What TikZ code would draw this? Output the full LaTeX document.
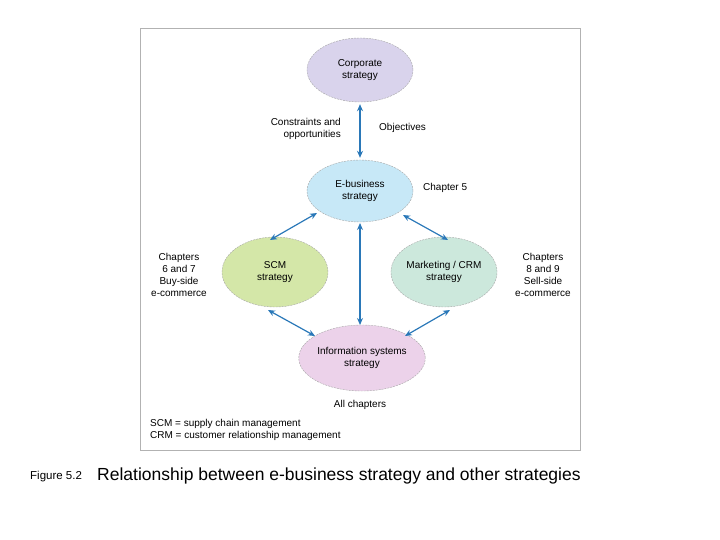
\documentclass[tikz,border=0pt]{standalone}
\usepackage{fontspec}
\setmainfont{Liberation Sans}
\usetikzlibrary{arrows.meta,shapes.geometric}
\definecolor{arr}{HTML}{2A78B8}
\tikzset{
 ell/.style={draw=gray!70, dash pattern=on 2pt off 1pt, thin, ellipse, minimum width=#1},
 lbl/.style={font=\fontsize{10}{12}\selectfont, align=center, inner sep=0pt},
 conn/.style={draw=arr, line width=1.2pt, {Stealth[length=7pt,width=6pt]}-{Stealth[length=7pt,width=6pt]}}
}
\begin{document}
\begin{tikzpicture}[x=1pt,y=-1pt]
\useasboundingbox (0,0) rectangle (720,540);
\draw[gray!60, thin] (140,28) rectangle (580,450);
\node[ell=106pt, minimum height=64pt, fill={rgb,255:red,217;green,211;blue,236}, lbl] (corp) at (360,70) {Corporate\\strategy};
\node[ell=106pt, minimum height=62pt, fill={rgb,255:red,199;green,232;blue,247}, lbl] (eb) at (360,191) {E-business\\strategy};
\node[ell=106pt, minimum height=70pt, fill={rgb,255:red,212;green,231;blue,168}, lbl] (scm) at (275,272) {SCM\\strategy};
\node[ell=106pt, minimum height=70pt, fill={rgb,255:red,204;green,232;blue,220}, lbl] (mkt) at (444,272) {Marketing / CRM\\strategy};
\node[ell=110pt, minimum height=66pt, fill={rgb,255:red,236;green,210;blue,234}, lbl] (is) at (362,358) {Information systems\\strategy};
\draw[conn] ([yshift=-2pt]corp.south) -- ([yshift=2pt]eb.north);
\draw[conn] (360,223) -- (360,325);
\draw[conn] (317,213) -- (270,240);
\draw[conn] (403,215) -- (448,240);
\draw[conn] (268,310) -- (315,336);
\draw[conn] (450,310) -- (405,336);
\node[lbl, align=right, anchor=east] (co) at (341,129) {Constraints and\\opportunities};
\node[lbl, anchor=west] (ob) at (379,128) {Objectives};
\node[lbl, anchor=west] (c5) at (423,188) {Chapter 5};
\node[lbl] (c67) at (179,275) {Chapters\\6 and 7\\Buy-side\\e-commerce};
\node[lbl] (c89) at (543,275) {Chapters\\8 and 9\\Sell-side\\e-commerce};
\node[lbl] (all) at (360,405) {All chapters};
\node[lbl, align=left, anchor=west] (key) at (150,430) {SCM = supply chain management\\CRM = customer relationship management};
\node[inner sep=0pt, anchor=west, font=\fontsize{11.5}{13}\selectfont] (fig) at (30,477) {Figure 5.2};
\node[anchor=west, inner sep=0pt, font=\fontsize{17.5}{20}\selectfont] (cap) at (97,476) {Relationship between e-business strategy and other strategies};
\end{tikzpicture}
\end{document}
